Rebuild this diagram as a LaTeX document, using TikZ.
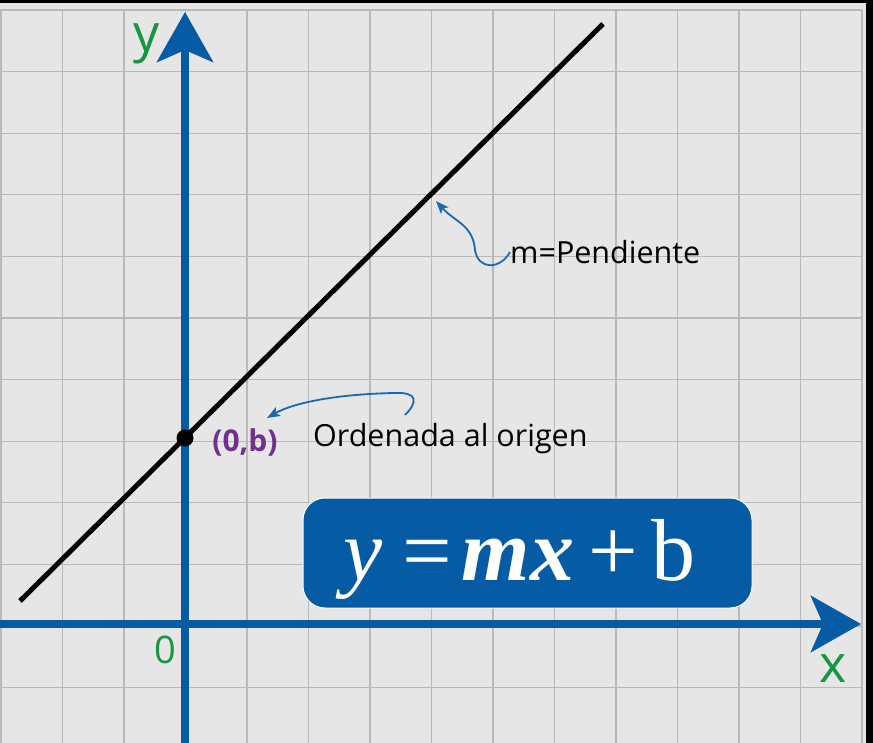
\documentclass[tikz,border=0pt]{standalone}
\usepackage{fontspec}
\setmainfont{Open Sans}
\newfontfamily\eqfont{Liberation Serif}
\usetikzlibrary{arrows.meta}
\definecolor{bggray}{RGB}{230,230,230}
\definecolor{gridgray}{RGB}{185,185,185}
\definecolor{axisblue}{RGB}{6,92,164}
\definecolor{labelgreen}{RGB}{22,150,62}
\definecolor{ptpurple}{RGB}{112,48,140}
\definecolor{noteblue}{RGB}{25,105,175}
\begin{document}
\begin{tikzpicture}[x=1pt,y=-1pt,
  gridline/.style={gridgray, line width=1.3pt},
  axisarrow/.style={axisblue, line width=8pt, -{Stealth[length=50pt,width=56pt,inset=12pt]}},
  axislabel/.style={text=labelgreen, inner sep=0pt},
  note/.style={inner sep=0pt, font=\fontsize{30.5}{30.5}\selectfont},
  notearrow/.style={noteblue, line width=1.8pt, -{Stealth[length=13pt,width=10pt,inset=3pt]}}]
\useasboundingbox (0,0) rectangle (873,743);
\fill[black] (0,0) rectangle (873,743);
\fill[bggray] (0,3) rectangle (866,743);
\foreach \k in {0,...,14} \draw[gridline] (61.5*\k+1,10) -- (61.5*\k+1,743);
\foreach \k in {0,...,11} \draw[gridline] (0,10+61.6*\k) -- (862,10+61.6*\k);
% axes
\coordinate (xs) at (0,624);
\coordinate (xe) at (861,624);
\coordinate (ys) at (185,743);
\coordinate (ye) at (185,12);
\draw[axisarrow] (xs) -- (xe);
\draw[axisarrow] (ys) -- (ye);
\node[axislabel, font=\fontsize{52}{52}\selectfont] (ylab) at (147,44) {y};
\node[axislabel, font=\fontsize{52}{52}\selectfont] (xlab) at (833,669) {x};
\node[axislabel, font=\fontsize{38}{38}\selectfont] (zero) at (165.5,649.5) {0};
% line
\coordinate (la) at (20,601);
\coordinate (lb) at (603,24);
\draw[line width=5pt] (la) -- (lb);
\node[circle, fill=black, inner sep=0pt, minimum size=17pt] (b) at (185,438) {};
% labels
\node[inner sep=0pt, text=ptpurple, font=\fontsize{30}{30}\selectfont\bfseries] (pt) at (245,442) {(0,b)};
\node[note, anchor=west] (ord) at (313,439) {Ordenada al origen};
\node[note, anchor=west] (pend) at (510,252) {m=Pendiente};
\coordinate (ordstart) at (405,415);
\coordinate (ordtip) at (267,418);
\coordinate (pendtip) at (436,201);
\draw[notearrow] (ordstart) .. controls (418,402) and (418,392) .. (395,393) .. controls (340,394) and (295,402) .. (ordtip);
\draw[notearrow] (pend.west) .. controls (500,270) and (478,270) .. (475,250) .. controls (473,225) and (455,222) .. (pendtip);
% formula box
\node[rounded corners=22pt, fill=axisblue, draw=white, line width=1pt, minimum width=449pt, minimum height=110pt, inner sep=0pt] (eqbox) at (527.5,553) {};
\node[text=white, inner sep=0pt, anchor=base, font=\eqfont\fontsize{88}{88}\selectfont] (eq) at (519.5,580) {\textit{y}\kern20pt=\kern10pt\textbf{\textit{mx}}\kern14pt+\kern14pt b};
\end{tikzpicture}
\end{document}
